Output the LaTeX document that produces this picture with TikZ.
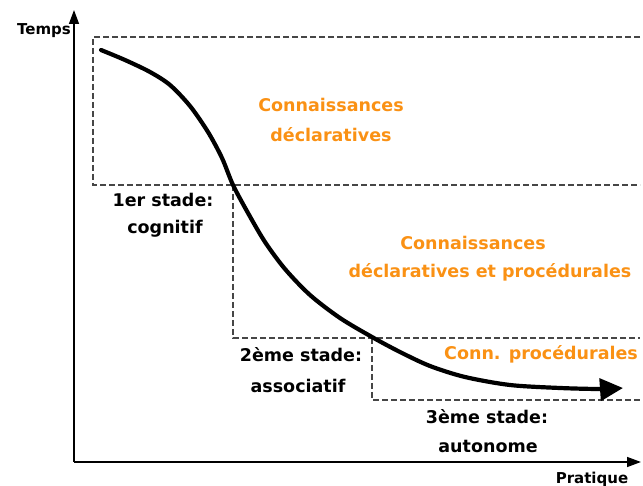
\documentclass[tikz,border=0pt]{standalone}
\usepackage{fontspec}
\setmainfont{DejaVu Sans}
\usetikzlibrary{arrows.meta}
\definecolor{orangec}{RGB}{250,145,20}
\definecolor{dashc}{RGB}{70,70,70}
\begin{document}
\begin{tikzpicture}[x=1pt,y=-1pt,
  lbl/.style={font=\bfseries\fontsize{17.5}{20}\selectfont, inner sep=0pt, anchor=center},
  org/.style={lbl, text=orangec},
  small/.style={lbl, font=\bfseries\fontsize{15}{17}\selectfont},
  dsh/.style={draw=dashc, line width=2.3pt, dash pattern=on 6pt off 3pt},
  axisline/.style={line width=1.5pt, -{Triangle[length=14pt,width=10pt]}},
  curve/.style={line width=4.2pt, line cap=round, -{Triangle[length=23pt,width=22pt]}}]
\useasboundingbox (0,0) rectangle (643,486);
% axes
\coordinate (O) at (74,462);
\coordinate (Ytop) at (74,10);
\coordinate (Xend) at (641,462);
\draw[axisline] (O) -- (Ytop);
\draw[axisline] (O) -- (Xend);
\node[small, anchor=east] (temps) at (71,31) {Temps};
\node[small] (prat) at (592,479) {Pratique};
% dashed frames
\coordinate (a1) at (93,37);
\coordinate (a2) at (640,37);
\coordinate (b1) at (93,185);
\coordinate (b2) at (640,185);
\coordinate (c1) at (233,185);
\coordinate (c2) at (233,338);
\coordinate (c3) at (640,338);
\coordinate (d1) at (372,338);
\coordinate (d2) at (372,400);
\coordinate (d3) at (640,400);
\draw[dsh] (a2) -- (a1) -- (b1) -- (b2);
\draw[dsh] (c1) -- (c2) -- (c3);
\draw[dsh] (d1) -- (d2) -- (d3);
% curve
\draw[curve] plot[smooth, tension=0.5] coordinates {(101,50) (125,60) (150,72) (170,85) (190,106) (208,132) (222,158) (233,185) (248,213) (265,242) (285,269) (310,295) (340,318) (372,337) (400,352) (430,366) (465,377) (510,385) (560,388) (600,389) (623,388)};
% labels
\node[org] (k1a) at (331,105) {Connaissances};
\node[org] (k1b) at (331,135) {déclaratives};
\node[org] (k2a) at (473,243) {Connaissances};
\node[org] (k2b) at (490,272) {déclaratives et procédurales};
\node[org, anchor=west] (k3) at (444,354) {Conn. procédurales};
\node[lbl] (s1a) at (163,200) {1er stade:};
\node[lbl] (s1b) at (165,229) {cognitif};
\node[lbl] (s2a) at (301,355) {2ème stade:};
\node[lbl] (s2b) at (298,386) {associatif};
\node[lbl] (s3a) at (487,417) {3ème stade:};
\node[lbl] (s3b) at (488,446) {autonome};
\end{tikzpicture}
\end{document}
